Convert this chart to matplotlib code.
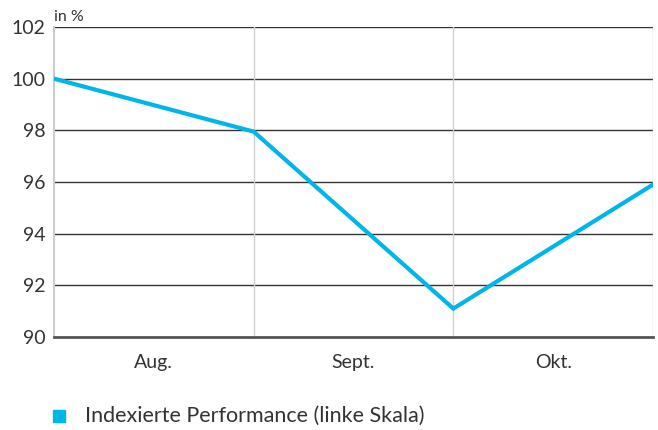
import matplotlib
matplotlib.use("Agg")
import matplotlib.pyplot as plt
from matplotlib.patches import Rectangle

plt.rcParams['font.family'] = ['Lato', 'DejaVu Sans']

# Data
x_points = [0, 1, 2, 3]
performance = [100.0, 97.95, 91.1, 95.9]
month_labels = ["Aug.", "Sept.", "Okt."]
month_pos = [0.5, 1.5, 2.5]
y_ticks = [90, 92, 94, 96, 98, 100, 102]

line_color = "#00b5e8"
text_color = "#333333"

fig = plt.figure(figsize=(6.58, 4.30), dpi=100)
ax = fig.add_axes([54 / 658, 1 - 337 / 430, (653 - 54) / 658, 310 / 430])

# grid
for y in y_ticks[1:]:
    ax.axhline(y, color="#333333", lw=1.0, zorder=1)
for xv in [1, 2, 3]:
    ax.axvline(xv, color="#d0d0d0", lw=1.0, zorder=1)

ax.plot(x_points, performance, color=line_color, lw=3, zorder=3, solid_joinstyle="miter")

ax.set_xlim(0, 3)
ax.set_ylim(90, 102)
ax.set_yticks(y_ticks)
ax.set_yticklabels([str(v) for v in y_ticks], fontsize=14, color=text_color)
ax.set_xticks(month_pos)
ax.set_xticklabels(month_labels, fontsize=14, color=text_color)
ax.tick_params(axis="both", length=0)
ax.tick_params(axis="y", pad=6)
ax.tick_params(axis="x", pad=12)

for side in ["top", "right"]:
    ax.spines[side].set_visible(False)
ax.spines["left"].set_color("#cccccc")
ax.spines["left"].set_linewidth(1.5)
ax.spines["bottom"].set_color("#555555")
ax.spines["bottom"].set_linewidth(2)

fig.text(54 / 658, 1 - 17 / 430, "in %", fontsize=11.5, color=text_color, va="center", ha="left")

# legend
fig.patches.append(Rectangle((53 / 658, 1 - 422 / 430), 12 / 658, 12 / 430,
                             transform=fig.transFigure, color=line_color))
fig.text(85 / 658, 1 - 416 / 430, "Indexierte Performance (linke Skala)",
         fontsize=15.5, color=text_color, va="center", ha="left")

fig.savefig("out.png", dpi=100)
